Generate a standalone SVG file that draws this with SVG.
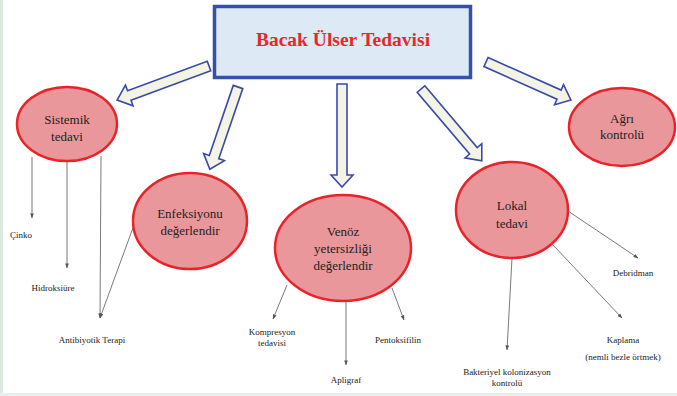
<svg xmlns="http://www.w3.org/2000/svg" width="677" height="396" viewBox="0 0 677 396">
  <style>
    .serif { font-family: "Liberation Serif", Tinos, "Times New Roman", "DejaVu Serif", serif; }
    .node ellipse { fill: #e9979b; stroke: #e8242a; stroke-width: 2.5; }
    .node text { font-size: 13px; fill: #222; text-anchor: middle; }
    .block { fill: #f4f4e6; stroke: #3a4aa8; stroke-width: 1.6; stroke-linejoin: miter; }
    .thin { stroke: #6a6a6a; stroke-width: 0.9; fill: none; }
    .lbl { font-size: 9px; fill: #222; text-anchor: middle; }
  </style>
  <defs>
    <marker id="tip" viewBox="0 0 6 6" refX="5.5" refY="3" markerWidth="5" markerHeight="5" orient="auto" markerUnits="userSpaceOnUse">
      <path d="M0,0.8 L6,3 L0,5.2 Z" fill="#555"/>
    </marker>
  </defs>

  <rect x="0" y="0" width="677" height="396" fill="#ffffff"/>
  <rect x="0" y="0" width="3" height="396" fill="#dcebdd"/>
  <rect x="0" y="393" width="677" height="3" fill="#e6eeee"/>

  <g class="serif">
  <!-- title -->
  <g id="title">
    <rect x="214.5" y="6.5" width="256" height="71" fill="#dde9f5" stroke="#3550a8" stroke-width="3.5"/>
    <text x="343" y="46" font-size="19.5" font-weight="bold" fill="#e4282e" text-anchor="middle">Bacak Ülser Tedavisi</text>
  </g>

  <!-- hollow block arrows from the title, then thin leader lines -->
  <g id="connectors">
    <path class="block" transform="translate(209,66) rotate(159.7)" d="M0,-5 L85,-5 L85,-11 L98,0 L85,11 L85,5 L0,5 Z"/>
    <path class="block" transform="translate(238,87) rotate(108.9)" d="M0,-5 L74,-5 L74,-11 L87,0 L74,11 L74,5 L0,5 Z"/>
    <path class="block" transform="translate(342,84) rotate(90)" d="M0,-5 L91,-5 L91,-11 L103,0 L91,11 L91,5 L0,5 Z"/>
    <path class="block" transform="translate(421,89) rotate(49.7)" d="M0,-5 L81,-5 L81,-11 L94,0 L81,11 L81,5 L0,5 Z"/>
    <path class="block" transform="translate(486,62) rotate(24.1)" d="M0,-5 L80,-5 L80,-11 L93,0 L80,11 L80,5 L0,5 Z"/>

    <line class="thin" x1="32" y1="157" x2="32" y2="218" marker-end="url(#tip)"/>
    <line class="thin" x1="67" y1="161" x2="67" y2="268" marker-end="url(#tip)"/>
    <line class="thin" x1="101" y1="156" x2="100" y2="318" marker-end="url(#tip)"/>
    <line class="thin" x1="134" y1="225" x2="100" y2="318" marker-end="url(#tip)"/>

    <line class="thin" x1="287" y1="285" x2="273" y2="319" marker-end="url(#tip)"/>
    <line class="thin" x1="346" y1="301" x2="346" y2="365" marker-end="url(#tip)"/>
    <line class="thin" x1="392" y1="288" x2="404" y2="320" marker-end="url(#tip)"/>

    <line class="thin" x1="568" y1="211" x2="638" y2="258" marker-end="url(#tip)"/>
    <line class="thin" x1="553" y1="245" x2="622" y2="318" marker-end="url(#tip)"/>
    <line class="thin" x1="512" y1="258" x2="507" y2="350" marker-end="url(#tip)"/>
  </g>

  <g id="sistemik" class="node">
    <ellipse cx="67" cy="124" rx="50" ry="37"/>
    <text x="67" y="124">Sistemik</text>
    <text x="67" y="141">tedavi</text>
  </g>

  <g id="enfeksiyon" class="node">
    <ellipse cx="190" cy="221" rx="57" ry="48"/>
    <text x="190" y="218">Enfeksiyonu</text>
    <text x="190" y="235">değerlendir</text>
  </g>

  <g id="venoz" class="node">
    <ellipse cx="343" cy="248" rx="68" ry="53"/>
    <text x="343" y="236">Venöz</text>
    <text x="343" y="253">yetersizliği</text>
    <text x="343" y="270">değerlendir</text>
  </g>

  <g id="lokal" class="node">
    <ellipse cx="512" cy="210" rx="56" ry="48"/>
    <text x="512" y="210">Lokal</text>
    <text x="512" y="228">tedavi</text>
  </g>

  <g id="agri" class="node">
    <ellipse cx="622" cy="127" rx="53" ry="39"/>
    <text x="622" y="123">Ağrı</text>
    <text x="622" y="139">kontrolü</text>
  </g>

  <!-- leaf labels -->
  <g id="labels">
    <text class="lbl" x="21" y="238">Çinko</text>
    <text class="lbl" x="53" y="291">Hidroksiüre</text>
    <text class="lbl" x="92" y="343">Antibiyotik Terapi</text>
    <text class="lbl" x="272" y="335">Kompresyon</text>
    <text class="lbl" x="272" y="346">tedavisi</text>
    <text class="lbl" x="398" y="343">Pentoksifilin</text>
    <text class="lbl" x="346" y="383">Apligraf</text>
    <text class="lbl" x="633" y="276">Debridman</text>
    <text class="lbl" x="623" y="343">Kaplama</text>
    <text class="lbl" x="623" y="360">(nemli bezle örtmek)</text>
    <text class="lbl" x="507" y="375">Bakteriyel kolonizasyon</text>
    <text class="lbl" x="507" y="386">kontrolü</text>
  </g>
  </g>
</svg>
